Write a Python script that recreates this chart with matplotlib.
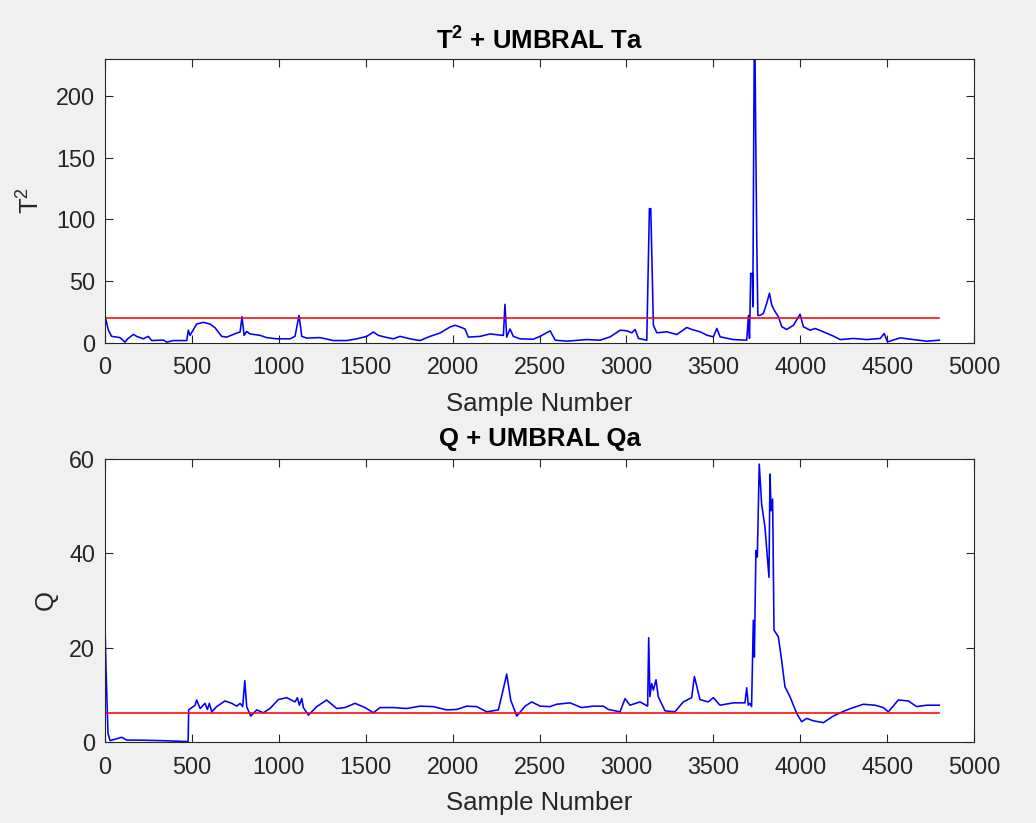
import matplotlib
matplotlib.use("Agg")
import matplotlib.pyplot as plt

plt.rcParams['font.family'] = ['Liberation Sans', 'DejaVu Sans']
plt.rcParams['mathtext.fontset'] = 'custom'
plt.rcParams['mathtext.rm'] = 'Liberation Sans'
plt.rcParams['mathtext.bf'] = 'Liberation Sans:bold'
plt.rcParams['mathtext.it'] = 'Liberation Sans:italic'

# ---- data ----
t2_samples = [0, 19, 38, 86, 115, 130, 163, 182, 220, 249, 268, 336, 355, 393, 470, 479, 489,
              527, 566, 604, 633, 671, 700, 758, 777, 788, 800, 815, 834, 892, 930, 988, 1064,
              1093, 1116, 1132, 1160, 1237, 1314, 1390, 1448, 1506, 1544, 1573, 1611, 1659, 1697,
              1755, 1812, 1870, 1927, 1985, 2014, 2043, 2071, 2090, 2158, 2216, 2273, 2292, 2301,
              2311, 2330, 2349, 2388, 2464, 2503, 2561, 2590, 2657, 2772, 2848, 2906, 2964, 3002,
              3031, 3050, 3069, 3117, 3132, 3140, 3155, 3175, 3232, 3290, 3347, 3376, 3424, 3462,
              3500, 3520, 3539, 3616, 3692, 3702, 3708, 3715, 3725, 3727, 3735, 3740, 3744, 3750,
              3756, 3769, 3788, 3807, 3823, 3836, 3850, 3874, 3894, 3922, 3961, 3999, 4018, 4057,
              4086, 4133, 4191, 4229, 4306, 4383, 4460, 4483, 4502, 4575, 4651, 4728, 4800]
t2_values = [22, 10, 5, 4, 0.3, 3, 6.6, 5, 3, 5, 1.6, 2, 0.3, 1.6, 1.6, 10, 5.8,
             15, 16.4, 15, 12, 5, 4.4, 7.7, 8.5, 21, 5.8, 9, 7, 5.8, 4, 3, 3,
             5, 22, 5, 3.6, 4, 1.6, 1.6, 3, 5, 8.5, 5.8, 4.4, 3, 5,
             3, 1.6, 5, 7.7, 12.6, 14, 12.6, 11, 4.4, 5, 7, 6, 5.8, 31,
             4.4, 11, 5, 3, 2.7, 5, 9.5, 1.9, 1.1, 2.4, 1.9, 4.6, 10, 9.5,
             7.9, 10.6, 3.3, 1.9, 108.6, 108.6, 14, 7.9, 8.7, 6.5, 12.2, 10.6, 8.7, 6,
             4.6, 11.4, 4.6, 2.4, 1.9, 22, 3.3, 56, 56, 29, 230, 230, 165, 80.6,
             22, 22, 23.6, 31.8, 40, 30.4, 26.3, 21, 12.8, 10.6, 14, 23, 12.8, 10,
             11.4, 8.7, 5.2, 2.4, 3.3, 2.4, 3.3, 7.3, 0.5, 3.8, 2.4, 1.1, 1.9]
t2_limit = 20.0

q_samples = [0, 6, 17, 29, 58, 96, 125, 201, 316, 478, 481, 518, 527, 547, 575, 589, 600, 614,
             642, 690, 729, 758, 777, 792, 804, 815, 838, 873, 911, 949, 997, 1045, 1093, 1107,
             1118, 1132, 1141, 1170, 1218, 1275, 1333, 1381, 1438, 1496, 1544, 1582, 1659, 1736,
             1812, 1889, 1966, 2023, 2081, 2138, 2196, 2263, 2292, 2311, 2334, 2369, 2417, 2455,
             2503, 2560, 2598, 2675, 2742, 2809, 2867, 2896, 2963, 2992, 3020, 3078, 3122, 3128,
             3135, 3145, 3155, 3170, 3183, 3222, 3279, 3327, 3375, 3391, 3423, 3471, 3500, 3538,
             3615, 3682, 3692, 3701, 3711, 3720, 3730, 3736, 3745, 3753, 3764, 3778, 3797, 3820,
             3826, 3832, 3841, 3849, 3874, 3893, 3912, 3941, 3979, 4008, 4037, 4075, 4133, 4190,
             4248, 4305, 4363, 4430, 4478, 4507, 4564, 4622, 4670, 4727, 4800]
q_values = [24.4, 15, 1.8, 0.3, 0.6, 1.0, 0.4, 0.4, 0.3, 0.1, 6.8, 7.8, 8.9, 7.1, 8.2, 6.9, 8.2, 6.4,
            7.5, 8.7, 8.2, 7.6, 8.2, 7.5, 13, 7.5, 5.5, 6.8, 6.2, 7.1, 9.0, 9.4, 8.5, 9.4,
            7.8, 9.2, 7.3, 5.7, 7.5, 8.9, 7.1, 7.3, 8.2, 7.3, 6.2, 7.3, 7.3, 7.1,
            7.6, 7.5, 6.8, 6.9, 7.6, 7.5, 6.4, 6.8, 11.3, 14.4, 8.9, 5.5, 7.6, 8.5,
            7.6, 7.5, 8.0, 8.3, 7.3, 7.6, 7.6, 6.9, 6.4, 9.2, 7.8, 8.5, 7.6, 22.1,
            9.6, 12.4, 11, 13.2, 9.6, 6.6, 6.4, 8.5, 9.4, 13.9, 9.0, 8.5, 9.4, 7.8,
            8.3, 8.3, 11.5, 7.8, 8.2, 7.5, 25.8, 18.0, 40.6, 39.2, 58.9, 50.4, 45.5, 34.9,
            56.8, 49, 51.5, 23.7, 22.3, 17.3, 11.7, 9.6, 6.1, 4.3, 5.0, 4.5, 4.1, 5.5,
            6.5, 7.3, 8.0, 7.8, 7.3, 6.4, 8.9, 8.7, 7.5, 7.8, 7.8]
q_limit = 6.2

x_range = [0, 4800]
x_ticks = list(range(0, 5001, 500))
t2_ticks = [0, 50, 100, 150, 200]
q_ticks = [0, 20, 40, 60]

# ---- figure ----
fig = plt.figure(figsize=(10.36, 8.23), dpi=100, facecolor='#f0f0f0')
ax1 = fig.add_axes([0.1014, 0.5838, 0.8388, 0.3445])
ax2 = fig.add_axes([0.1014, 0.0984, 0.8388, 0.3440])

TXT = '#262626'
TICK_FS = 16.8
LAB_FS = 18.5


def style(ax, yticks, ylim):
    ax.set_facecolor('white')
    ax.set_xlim(0, 5000)
    ax.set_ylim(*ylim)
    ax.set_xticks(x_ticks)
    ax.set_yticks(yticks)
    ax.tick_params(direction='in', length=5.5, width=0.8, colors=TXT,
                   labelsize=TICK_FS, top=True, right=True, pad=7)
    ax.tick_params(axis='x', pad=10)
    for s in ax.spines.values():
        s.set_color(TXT)
        s.set_linewidth(0.8)


ax1.plot(t2_samples, t2_values, color='#0000ff', lw=1.15)
ax1.plot(x_range, [t2_limit, t2_limit], color='#ff0000', lw=1.15)
style(ax1, t2_ticks, (0, 230))
ax1.set_title(r'$\mathbf{T^2}$ + UMBRAL Ta', fontsize=LAB_FS, fontweight='bold', pad=7)
ax1.set_xlabel('Sample Number', fontsize=LAB_FS, color=TXT, labelpad=9)
ax1.set_ylabel(r'$\mathrm{T}^2$', fontsize=LAB_FS, color=TXT, labelpad=8)

ax2.plot(q_samples, q_values, color='#0000ff', lw=1.15)
ax2.plot(x_range, [q_limit, q_limit], color='#ff0000', lw=1.15)
style(ax2, q_ticks, (0, 60))
ax2.set_title('Q + UMBRAL Qa', fontsize=LAB_FS, fontweight='bold', pad=9)
ax2.set_xlabel('Sample Number', fontsize=LAB_FS, color=TXT, labelpad=9)
ax2.set_ylabel('Q', fontsize=LAB_FS, color=TXT, labelpad=8)

fig.savefig('out.png', dpi=100, facecolor=fig.get_facecolor())
